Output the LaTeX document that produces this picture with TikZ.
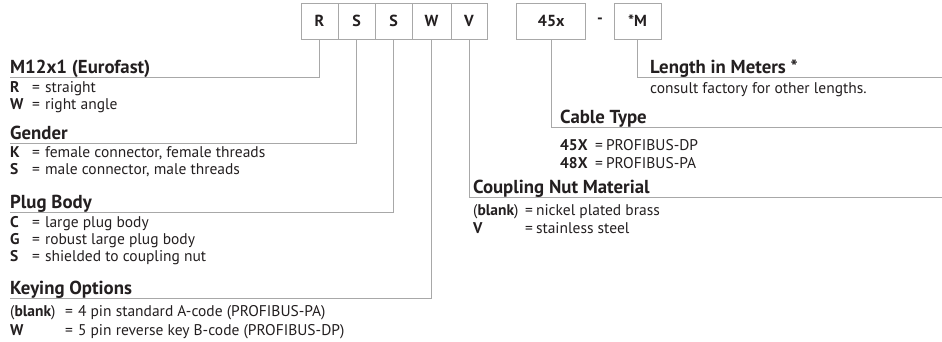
\documentclass[tikz,border=0pt]{standalone}
\usepackage{fontspec}
\setmainfont{PT Sans}
\definecolor{ln}{HTML}{A8A8A8}
\definecolor{tx}{HTML}{231F20}
\newcommand\eqsp{=\hspace{5pt}}
\begin{document}
\begin{tikzpicture}[x=1pt,y=-1pt,
 box/.style={draw=ln, line width=1pt, minimum width=37pt, minimum height=36pt, inner sep=0pt, font=\fontsize{16}{18}\selectfont\bfseries, text=tx},
 conn/.style={draw=ln, line width=1pt},
 head/.style={anchor=base west, inner sep=0pt, font=\fontsize{18.8}{20}\selectfont\bfseries, text=tx},
 key/.style={anchor=base west, inner sep=0pt, font=\fontsize{15.5}{17}\selectfont\bfseries, text=tx},
 val/.style={anchor=base west, inner sep=0pt, font=\fontsize{15.5}{17}\selectfont, text=tx}]
\useasboundingbox (0,0) rectangle (942,341);
% code boxes
\node[box] (bR) at (319.5,21) {R};
\node[box] (bS1) at (356.5,21) {S};
\node[box] (bS2) at (393.5,21) {S};
\node[box, minimum width=39pt] (bW) at (431.5,21) {W};
\node[box, minimum width=36pt] (bV) at (469,21) {V};
\node[box, minimum width=69pt] (bC) at (551.2,21) {45x};
\node[box, draw=none] (dash) at (600,21) {-};
\node[box, minimum width=47pt] (bM) at (637.5,21) {*M};
% connector ends
\coordinate (eR) at (10,77);
\coordinate (eS1) at (10,143);
\coordinate (eS2) at (10,212);
\coordinate (eW) at (10,298);
\coordinate (eV) at (942,197);
\coordinate (eC) at (942,127);
\coordinate (eM) at (942,77);
\draw[conn] (bR.south) |- (eR);
\draw[conn] (bS1.south) |- (eS1);
\draw[conn] (bS2.south) |- (eS2);
\draw[conn] (bW.south) |- (eW);
\draw[conn] (bV.south) |- (eV);
\draw[conn] (bC.south) |- (eC);
\draw[conn] (bM.south) |- (eM);
% M12x1
\node[head] (hM) at (10,73.5) {M12x1 (Eurofast)};
\node[key] (kR) at (10,92.5) {R};
\node[val] (vR) at (32,92.5) {\eqsp straight};
\node[key] (kW1) at (10,109.5) {W};
\node[val] (vW1) at (32,109.5) {\eqsp right angle};
% Gender
\node[head] (hG) at (10,139.5) {Gender};
\node[key] (kK) at (10,157.5) {K};
\node[val] (vK) at (32,157.5) {\eqsp female connector, female threads};
\node[key] (kS1) at (10,174.5) {S};
\node[val] (vS1) at (32,174.5) {\eqsp male connector, male threads};
% Plug body
\node[head] (hP) at (10,208.5) {Plug Body};
\node[key] (kC) at (10,227.5) {C};
\node[val] (vC) at (32,227.5) {\eqsp large plug body};
\node[key] (kG) at (10,244.5) {G};
\node[val] (vG) at (32,244.5) {\eqsp robust large plug body};
\node[key] (kS2) at (10,261.5) {S};
\node[val] (vS2) at (32,261.5) {\eqsp shielded to coupling nut};
% Keying
\node[head] (hK) at (10,294.5) {Keying Options};
\node[val] (kB1) at (10,316.5) {(\textbf{blank})};
\node[val] (vB1) at (65,316.5) {\eqsp 4 pin standard A-code (PROFIBUS-PA)};
\node[key] (kW2) at (10,335) {W};
\node[val] (vW2) at (65,335) {\eqsp 5 pin reverse key B-code (PROFIBUS-DP)};
% Coupling nut
\node[head] (hN) at (473,193.5) {Coupling Nut Material};
\node[val] (kB2) at (473,215) {(\textbf{blank})};
\node[val] (vB2) at (525,215) {=\hspace{3pt}nickel plated brass};
\node[key] (kV) at (473,233) {V};
\node[val] (vV) at (525,233) {=\hspace{3pt}stainless steel};
% Cable type
\node[head] (hC) at (560,123.5) {Cable Type};
\node[key] (k45) at (560,150) {45X};
\node[val] (v45) at (595,150) {=\hspace{3pt}PROFIBUS-DP};
\node[key] (k48) at (560,168) {48X};
\node[val] (v48) at (595,168) {=\hspace{3pt}PROFIBUS-PA};
% Length
\node[head] (hL) at (650,73.5) {Length in Meters *};
\node[val] (vL) at (650,93) {consult factory for other lengths.};
\end{tikzpicture}
\end{document}
